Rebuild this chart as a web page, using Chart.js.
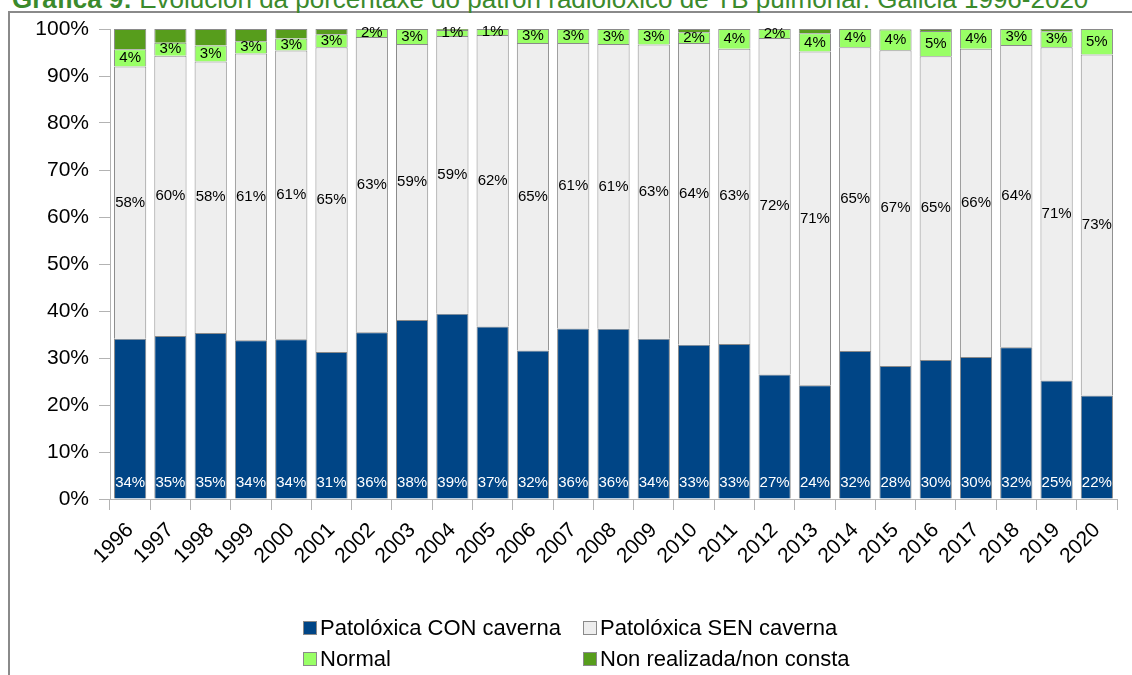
<!DOCTYPE html>
<html>
<head>
<meta charset="utf-8">
<script src="https://cdn.jsdelivr.net/npm/chart.js@4/dist/chart.umd.min.js"></script>
<style>
  html, body { margin: 0; padding: 0; background: #fff; }
  body { width: 1132px; height: 675px; position: relative; overflow: hidden; font-family: "Liberation Sans", Arial, sans-serif; }
  #frame { position: absolute; left: 8px; top: 11px; width: 1200px; height: 800px; border-left: 2px solid #8a8a8a; border-top: 2px solid #8a8a8a; }
  #title { position: absolute; left: 12px; top: -14px; font-size: 26px; line-height: 26px; color: #3b8a2c; white-space: nowrap; }
  #title b { font-weight: bold; }
  #chart { position: absolute; left: 0; top: 0; }
  .leg { position: absolute; font-size: 22px; line-height: 22px; color: #000; white-space: nowrap; }
  .leg i { position: absolute; left: -17px; top: 4px; width: 12px; height: 12px; border: 1px solid #8a8a8a; }
</style>
</head>
<body>
<div id="frame"></div>
<div id="title"><b>Gráfica 9:</b> Evolución da porcentaxe do patrón radiolóxico de TB pulmonar. Galicia 1996-2020</div>
<canvas id="chart" width="1132" height="675"></canvas>
<div id="legend"></div>
<script>
const years = ["1996", "1997", "1998", "1999", "2000", "2001", "2002", "2003", "2004", "2005", "2006", "2007", "2008",
  "2009", "2010", "2011", "2012", "2013", "2014", "2015", "2016", "2017", "2018", "2019", "2020"];

// Patolóxica CON caverna (%)
const conCaverna = [34.1, 34.7, 35.3, 33.8, 34.0, 31.3, 35.5, 38.1, 39.4, 36.7, 31.6, 36.3, 36.2,
  34.1, 32.8, 33.0, 26.5, 24.2, 31.5, 28.3, 29.6, 30.2, 32.3, 25.2, 22.0];
// Patolóxica SEN caverna (%)
const senCaverna = [57.9, 59.6, 57.8, 61.0, 61.4, 64.8, 62.8, 58.7, 59.1, 62.0, 65.4, 60.7, 60.6,
  62.6, 64.2, 62.8, 71.6, 71.0, 64.6, 67.2, 64.6, 65.6, 64.3, 70.9, 72.6];
// Normal (%)
const normal = [3.7, 2.8, 3.4, 2.6, 2.6, 2.8, 1.7, 3.2, 1.3, 1.3, 3.0, 3.0, 3.2,
  3.3, 2.3, 4.2, 1.9, 3.9, 3.9, 4.4, 5.4, 4.2, 3.4, 3.4, 5.4];
// Non realizada/non consta (%)
const nonRealizada = [4.3, 2.9, 3.5, 2.6, 2.0, 1.1, 0, 0, 0.2, 0, 0, 0, 0,
  0, 0.7, 0, 0, 0.9, 0, 0.1, 0.4, 0, 0, 0.5, 0];

const yTicks = [0, 10, 20, 30, 40, 50, 60, 70, 80, 90, 100];

const FONT = '"Liberation Sans", Arial, sans-serif';
const BORDER = "#8a8a8a";

const datasets = [
  { label: "Patolóxica CON caverna", data: conCaverna, backgroundColor: "#004586", labelColor: "#fff", labelAt: "base" },
  { label: "Patolóxica SEN caverna", data: senCaverna, backgroundColor: "#eeeeee", labelColor: "#000", labelAt: "mid" },
  { label: "Normal", data: normal, backgroundColor: "#99ff66", labelColor: "#000", labelAt: "mid" },
  { label: "Non realizada/non consta", data: nonRealizada, backgroundColor: "#579d1c", labelAt: null },
].map((d) => ({ ...d, borderColor: BORDER, borderWidth: 1, barPercentage: 0.8, categoryPercentage: 1.0 }));

// percentage labels inside the bar segments
const segLabels = {
  id: "segLabels",
  afterDatasetsDraw(chart) {
    const ctx = chart.ctx;
    ctx.save();
    ctx.font = "15px " + FONT;
    ctx.textAlign = "center";
    ctx.textBaseline = "middle";
    chart.data.datasets.forEach((ds, i) => {
      if (!ds.labelAt) return;
      const meta = chart.getDatasetMeta(i);
      meta.data.forEach((bar, j) => {
        const y = ds.labelAt === "base" ? bar.base - 16 : (bar.y + bar.base) / 2;
        ctx.fillStyle = ds.labelColor;
        ctx.fillText(Math.round(ds.data[j]) + "%", bar.x, y);
      });
    });
    ctx.restore();
  },
};

new Chart(document.getElementById("chart"), {
  type: "bar",
  data: { labels: years, datasets },
  plugins: [segLabels],
  options: {
    responsive: false,
    animation: false,
    devicePixelRatio: 1,
    layout: { padding: { left: 0, top: 29, right: 15, bottom: 0 } },
    plugins: { legend: { display: false }, title: { display: false }, tooltip: { enabled: false } },
    scales: {
      x: {
        stacked: true,
        grid: { display: true, drawOnChartArea: false, offset: true, color: "#b3b3b3", tickLength: 11 },
        border: { color: "#b3b3b3" },
        ticks: { color: "#000", font: { family: FONT, size: 21 }, minRotation: 45, maxRotation: 45, autoSkip: false, padding: 8 },
        afterFit(scale) { scale.height = 176; },
      },
      y: {
        stacked: true,
        min: 0,
        max: 100,
        afterBuildTicks(scale) { scale.ticks = yTicks.map((v) => ({ value: v })); },
        grid: { display: true, drawOnChartArea: false, color: "#b3b3b3", tickLength: 11 },
        border: { color: "#b3b3b3" },
        ticks: { color: "#000", font: { family: FONT, size: 21 }, padding: 10, callback: (v) => v + "%" },
        afterFit(scale) { scale.width = 110; },
      },
    },
  },
});

// two-column legend like the original
const legendPos = [[320, 617], [600, 617], [320, 648], [600, 648]];
const legend = document.getElementById("legend");
datasets.forEach((ds, i) => {
  const el = document.createElement("div");
  el.className = "leg";
  el.style.left = legendPos[i][0] + "px";
  el.style.top = legendPos[i][1] + "px";
  el.innerHTML = '<i style="background:' + ds.backgroundColor + '"></i>' + ds.label;
  legend.appendChild(el);
});
</script>
</body>
</html>
